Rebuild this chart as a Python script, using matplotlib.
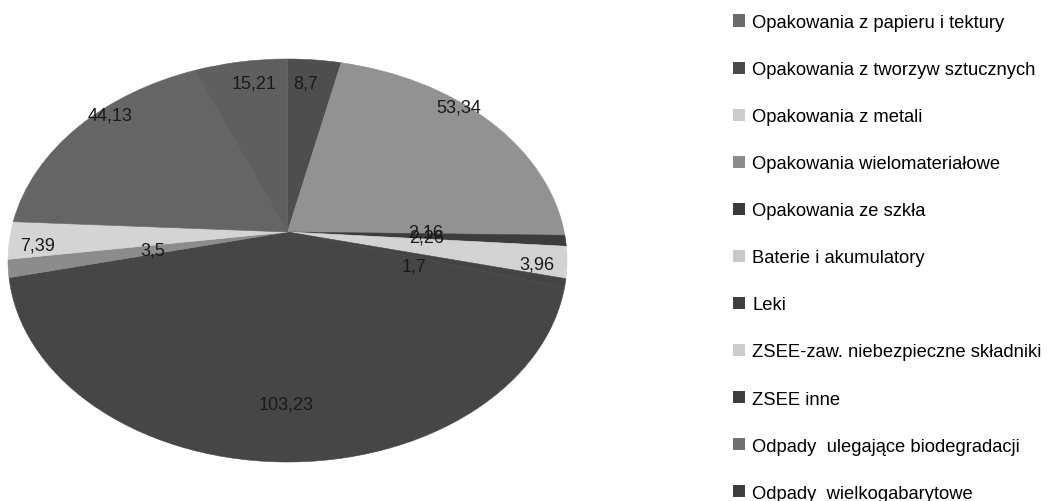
#!/usr/bin/env python3

import numpy as np
import matplotlib.pyplot as plt
from matplotlib.patches import Patch
from matplotlib.transforms import Transform

plt.rcParams["font.family"] = ["Liberation Sans", "DejaVu Sans"]

# clockwise from 12 o'clock
values = [8.7, 53.34, 2.16, 2.26, 3.96, 1.7, 103.23, 3.5, 7.39, 44.13, 15.21]

legend_names = [
    "Opakowania z papieru i tektury",
    "Opakowania z tworzyw sztucznych",
    "Opakowania z metali",
    "Opakowania wielomateriałowe",
    "Opakowania ze szkła",
    "Baterie i akumulatory",
    "Leki",
    "ZSEE-zaw. niebezpieczne składniki",
    "ZSEE inne",
    "Odpady  ulegające biodegradacji",
    "Odpady  wielkogabarytowe",
]

slice_colors = ["#4e4e4e", "#929292", "#3c3c3c", "#d2d2d2", "#d2d2d2", "#444444",
                "#464646", "#8c8c8c", "#d4d4d4", "#656565", "#5f5f5f"]
legend_colors = ["#6a6a6a", "#4a4a4a", "#cccccc", "#8c8c8c", "#3a3a3a", "#c8c8c8",
                 "#3e3e3e", "#cccccc", "#3e3e3e", "#707070", "#3e3e3e"]

# where each value sits inside its slice
label_radius = [0.847, 0.97, 0.5, 0.5, 0.896, 0.478, 0.775, 0.49, 0.899, 0.955, 0.855]
label_turn = [1.4, 7.5, 2.4, 2.7, 0, -6.3, 1, 0, 1.9, -7.5, -2]

W, H = 1048, 502
k = 0.1415  # tilt of the pie, the far side is squeezed


class Perspective(Transform):
    input_dims = 2
    output_dims = 2

    def transform_non_affine(self, xy):
        xy = np.asarray(xy, dtype=float)
        d = 1 + k * xy[:, 1]
        return np.column_stack([xy[:, 0] / d, xy[:, 1] / d])


fig = plt.figure(figsize=(W / 100, H / 100), dpi=100)
ax = fig.add_axes([8 / W, 1 - 463 / H, (567 - 8) / W, (463 - 60) / H])

wedges, _ = ax.pie(values, colors=slice_colors, startangle=90, counterclock=False)
ax.set_aspect("auto")
half_w = 1 / np.sqrt(1 - k**2)
ax.set_xlim(-half_w, half_w)
ax.set_ylim(-1 / (1 - k), 1 / (1 + k))

persp = Perspective() + ax.transData
for w, col in zip(wedges, slice_colors):
    w.set_transform(persp)
    w.set_edgecolor(col)
    w.set_linewidth(0.4)

for w, v, r, turn in zip(wedges, values, label_radius, label_turn):
    a = np.deg2rad((w.theta1 + w.theta2) / 2 + turn)
    ax.text(r * np.cos(a), r * np.sin(a), str(v).replace(".", ","), transform=persp,
            fontsize=13, color="#1a1a1a", ha="center", va="center")

handles = [Patch(facecolor=col) for col in legend_colors]
fig.legend(handles, legend_names, loc="upper left", bbox_to_anchor=(733 / W, 1 - 15 / H),
           frameon=False, fontsize=13.2, handlelength=0.65, handleheight=0.65,
           handletextpad=0.4, labelspacing=1.64, borderpad=0, borderaxespad=0)

fig.savefig("out.png", dpi=100)
